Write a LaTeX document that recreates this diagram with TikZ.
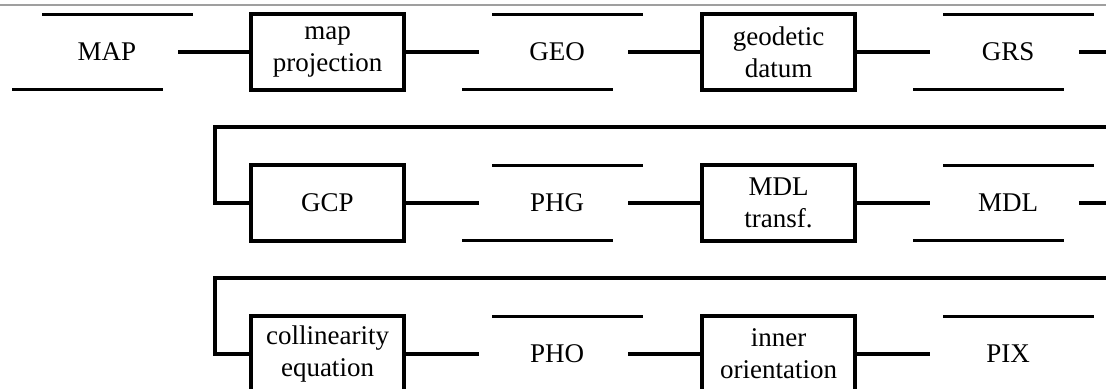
\documentclass[tikz,border=0pt]{standalone}
\usepackage{fontspec}
\setmainfont{Liberation Serif}
\begin{document}
\begin{tikzpicture}[x=0.5pt,y=-0.5pt,
  every node/.style={font=\fontsize{13.5}{16}\selectfont, align=center},
  proc/.style={draw, line width=1.9pt, rectangle, inner sep=0pt, minimum width=76.5pt, minimum height=38pt},
  storetxt/.style={inner sep=0pt, minimum width=74.5pt, minimum height=38pt},
  ln/.style={line width=1.7pt},
  store/.pic={}]
\useasboundingbox (0,0) rectangle (1106,389);
\clip (0,0) rectangle (1106,389);
\draw[gray!75, line width=1pt] (0,5.5) -- (1106,5.5);

% store macro: node centred at text centre, lines relative to it
\newcommand{\datastore}[4]{%
  \node[storetxt] (#1) at (#2,#3) {#4};
  \draw[ln] ([shift={(-65,-37.5)}]#1.center) -- ([shift={(86,-37.5)}]#1.center);
  \draw[ln] ([shift={(-95,37.5)}]#1.center) -- ([shift={(56,37.5)}]#1.center);
}
\newcommand{\lend}[1]{([xshift=-39pt]#1.center)}
\newcommand{\rend}[1]{([xshift=35.5pt]#1.center)}

% Row 1
\datastore{map}{107}{52}{MAP}
\node[proc] (mapproj) at (327.5,52) {map\\projection};
\datastore{geo}{557}{52}{GEO}
\node[proc] (datum) at (778.5,52) {geodetic\\datum};
\datastore{grs}{1008}{52}{GRS}
\coordinate (r1) at (1106,52);
\draw[ln] \rend{map} -- (mapproj.west);
\draw[ln] (mapproj.east) -- \lend{geo};
\draw[ln] \rend{geo} -- (datum.west);
\draw[ln] (datum.east) -- \lend{grs};
\draw[ln] \rend{grs} -- (r1);

% Row 2
\node[proc] (gcp) at (327.5,203) {GCP};
\datastore{phg}{557}{203}{PHG}
\node[proc] (mdlt) at (778.5,203) {MDL\\transf.};
\datastore{mdl}{1008}{203}{MDL}
\coordinate (l2) at (1106,127);
\coordinate (r2) at (1106,203);
\draw[ln] (l2) -- (215,127) |- (gcp.west);
\draw[ln] (gcp.east) -- \lend{phg};
\draw[ln] \rend{phg} -- (mdlt.west);
\draw[ln] (mdlt.east) -- \lend{mdl};
\draw[ln] \rend{mdl} -- (r2);

% Row 3
\node[proc] (coll) at (327.5,354) {collinearity\\equation};
\datastore{pho}{557}{354}{PHO}
\node[proc] (inner) at (778.5,354) {inner\\orientation};
\datastore{pix}{1008}{354}{PIX}
\coordinate (l3) at (1106,278);
\draw[ln] (l3) -- (215,278) |- (coll.west);
\draw[ln] (coll.east) -- \lend{pho};
\draw[ln] \rend{pho} -- (inner.west);
\draw[ln] (inner.east) -- \lend{pix};
\end{tikzpicture}
\end{document}
